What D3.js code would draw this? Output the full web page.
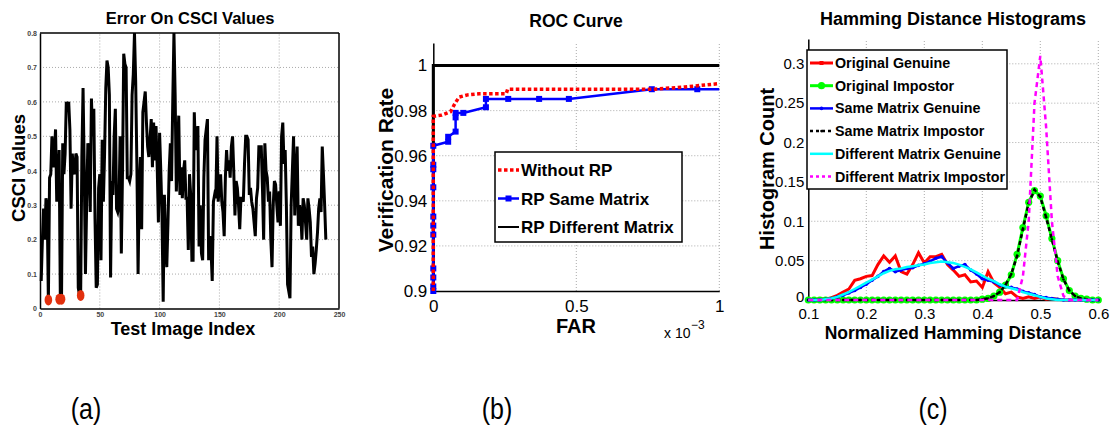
<!DOCTYPE html>
<html>
<head>
<meta charset="utf-8">
<script src="https://cdn.jsdelivr.net/npm/d3@7"></script>
<style>
body { margin: 0; background: #fff; }
text { font-family: "Liberation Sans", Arial, sans-serif; }
</style>
</head>
<body>
<svg id="fig" width="1117" height="429"></svg>
<script>
// ---- (a) CSCI values per test image ----
var csciValues = [
  0.08,0.20,0.29,0.20,0.32,0.30,0.02,0.38,0.39,0.50,
  0.41,0.45,0.52,0.31,0.36,0.46,0.03,0.03,0.48,0.39,
  0.45,0.60,0.59,0.60,0.52,0.29,0.45,0.40,0.39,0.45,
  0.44,0.06,0.04,0.04,0.44,0.64,0.40,0.10,0.30,0.48,
  0.45,0.28,0.61,0.50,0.58,0.26,0.06,0.07,0.35,0.39,
  0.14,0.49,0.31,0.45,0.64,0.72,0.70,0.62,0.09,0.37,
  0.33,0.50,0.58,0.29,0.28,0.30,0.50,0.16,0.40,0.74,
  0.71,0.70,0.38,0.38,0.37,0.39,0.62,0.68,0.80,0.66,
  0.42,0.10,0.35,0.44,0.23,0.57,0.60,0.63,0.54,0.47,
  0.44,0.49,0.55,0.41,0.54,0.43,0.53,0.41,0.25,0.51,
  0.40,0.27,0.02,0.33,0.20,0.12,0.25,0.40,0.48,0.37,
  0.60,0.80,0.62,0.34,0.45,0.56,0.33,0.41,0.32,0.40,
  0.43,0.32,0.32,0.17,0.39,0.33,0.14,0.14,0.57,0.46,
  0.48,0.53,0.18,0.30,0.16,0.14,0.38,0.49,0.52,0.55,
  0.14,0.21,0.17,0.08,0.31,0.33,0.32,0.50,0.31,0.36,
  0.39,0.31,0.28,0.21,0.38,0.46,0.40,0.43,0.38,0.47,
  0.50,0.40,0.27,0.37,0.35,0.30,0.23,0.32,0.32,0.31,
  0.42,0.50,0.50,0.49,0.33,0.35,0.31,0.29,0.25,0.21,
  0.32,0.35,0.47,0.47,0.47,0.35,0.20,0.48,0.40,0.38,
  0.31,0.34,0.20,0.12,0.30,0.37,0.36,0.30,0.25,0.34,
  0.24,0.50,0.54,0.42,0.46,0.30,0.07,0.05,0.03,0.30,
  0.40,0.50,0.27,0.38,0.47,0.24,0.30,0.28,0.20,0.32,
  0.30,0.25,0.20,0.32,0.29,0.25,0.15,0.18,0.10,0.13,
  0.17,0.22,0.29,0.32,0.28,0.47,0.39,0.30,0.20
];
var markedIndex = [7, 16, 18, 34];
var markedValue = [0.025, 0.027, 0.027, 0.038];
var aXTicks = [0, 50, 100, 150, 200, 250];
var aYTicks = [0, 0.1, 0.2, 0.3, 0.4, 0.5, 0.6, 0.7, 0.8];

// ---- (b) ROC curves (FAR in 1e-3) ----
var withoutFar = [0, 0, 0.03, 0.06, 0.075, 0.09, 0.12, 0.16, 0.255, 0.26, 0.77, 0.88, 1];
var withoutRate = [0.9, 0.9775, 0.978, 0.9795, 0.983, 0.986, 0.987, 0.9875, 0.9875, 0.9895, 0.9895, 0.9905, 0.992];
var sameFar = [0, 0, 0, 0, 0, 0, 0, 0, 0, 0, 0, 0.052, 0.052, 0.078, 0.078, 0.078, 0.105, 0.184, 0.184, 0.262, 0.37, 0.474, 0.764, 0.923, 1];
var sameRate = [0.9, 0.902, 0.906, 0.91, 0.925, 0.929, 0.933, 0.946, 0.954, 0.956, 0.9644, 0.9662, 0.9684, 0.9707, 0.977, 0.979, 0.979, 0.9815, 0.9852, 0.9852, 0.9852, 0.9852, 0.9895, 0.9895, 0.9895];
var diffFar = [0, 0, 1];
var diffRate = [0.9, 1, 1];
var bXTicks = [0, 0.5, 1];
var bYTicks = [0.9, 0.92, 0.94, 0.96, 0.98, 1];
var bLegend = ["Without RP", "RP Same Matrix", "RP Different Matrix"];

// ---- (c) Hamming distance histograms ----
var hdBins = [0.10,0.11,0.12,0.13,0.14,0.15,0.16,0.17,0.18,0.19,0.20,0.21,0.22,0.23,0.24,0.25,0.26,0.27,0.28,0.29,
  0.30,0.31,0.32,0.33,0.34,0.35,0.36,0.37,0.38,0.39,0.40,0.41,0.42,0.43,0.44,0.45,0.46,0.47,0.48,0.49,
  0.50,0.51,0.52,0.53,0.54,0.55,0.56,0.57,0.58,0.59,0.60];
var origGenuine = [0,0,0.002,0.001,0.003,0.006,0.010,0.014,0.025,0.027,0.030,0.031,0.045,0.056,0.048,0.056,0.036,0.033,0.045,0.060,
  0.047,0.055,0.055,0.058,0.045,0.038,0.030,0.032,0.023,0.024,0.016,0.036,0.022,0.016,0.008,0.010,0.004,0.002,0.004,0.002,
  0.004,0.001,0.002,0.001,0,0,0,0,0,0,0];
var origImpostor = [0,0,0,0,0,0,0,0,0,0,0,0,0,0,0,0,0,0,0,0,
  0,0,0,0,0,0,0,0,0,0,0.001,0.002,0.005,0.010,0.019,0.032,0.058,0.092,0.124,0.139,
  0.132,0.107,0.078,0.050,0.027,0.012,0.005,0.002,0.001,0,0];
var sameGenuine = [0,0,0,0.001,0.002,0.004,0.006,0.009,0.012,0.016,0.020,0.025,0.030,0.036,0.040,0.036,0.038,0.040,0.041,0.044,
  0.046,0.049,0.053,0.055,0.047,0.040,0.043,0.045,0.038,0.033,0.027,0.025,0.023,0.019,0.017,0.016,0.014,0.011,0.009,0.007,
  0.004,0.003,0.002,0.001,0,0,0,0,0,0,0];
var sameImpostor = [0,0,0,0,0,0,0,0,0,0,0,0,0,0,0,0,0,0,0,0,
  0,0,0,0,0,0,0,0,0,0,0.001,0.002,0.005,0.010,0.019,0.033,0.056,0.090,0.123,0.140,
  0.131,0.105,0.077,0.049,0.026,0.012,0.005,0.002,0.001,0,0];
var diffGenuine = [0,0,0,0.001,0.002,0.004,0.007,0.010,0.014,0.018,0.022,0.026,0.030,0.034,0.037,0.039,0.040,0.042,0.043,0.044,
  0.045,0.047,0.048,0.049,0.048,0.047,0.045,0.042,0.039,0.035,0.031,0.027,0.024,0.020,0.017,0.015,0.013,0.010,0.008,0.006,
  0.004,0.002,0.001,0,0,0,0,0,0,0,0];
var diffImpostor = [0,0,0,0,0,0,0,0,0,0,0,0,0,0,0,0,0,0,0,0,
  0,0,0,0,0,0,0,0,0,0,0,0,0,0,0,0,0,0.03,0.10,0.25,
  0.31,0.22,0.10,0.03,0.005,0,0,0,0,0,0];
var cXTicks = [0.1, 0.2, 0.3, 0.4, 0.5, 0.6];
var cYTicks = [0, 0.05, 0.1, 0.15, 0.2, 0.25, 0.3];
var cLegend = ["Original Genuine", "Original Impostor", "Same Matrix Genuine", "Same Matrix Impostor", "Different Matrix Genuine", "Different Matrix Impostor"];

var svg = d3.select('#fig')
svg.append('rect').attr('width', 1117).attr('height', 429).attr('fill', '#fff')

function grid(g, x, y, xt, yt) {
  var x0 = x.range()[0], x1 = x.range()[1], y0 = y.range()[0], y1 = y.range()[1]
  g.selectAll('.gx').data(xt).enter().append('line')
    .attr('x1', function (d) { return x(d) }).attr('x2', function (d) { return x(d) })
    .attr('y1', y0).attr('y2', y1)
    .attr('stroke', '#aaa').attr('stroke-width', 1).attr('stroke-dasharray', '1,2')
  g.selectAll('.gy').data(yt).enter().append('line')
    .attr('x1', x0).attr('x2', x1)
    .attr('y1', function (d) { return y(d) }).attr('y2', function (d) { return y(d) })
    .attr('stroke', '#aaa').attr('stroke-width', 1).attr('stroke-dasharray', '1,2')
}

function axes(g, x, y, xt, yt, size, padX, padY, fmtX, fmtY, weight, color) {
  var ax = g.append('g').attr('transform', 'translate(0,' + y.range()[0] + ')')
    .call(d3.axisBottom(x).tickValues(xt).tickSize(0).tickPadding(padX).tickFormat(fmtX))
  var ay = g.append('g').attr('transform', 'translate(' + x.range()[0] + ',0)')
    .call(d3.axisLeft(y).tickValues(yt).tickSize(0).tickPadding(padY).tickFormat(fmtY))
  ;[ax, ay].forEach(function (a) {
    a.select('.domain').attr('stroke', '#000').attr('stroke-width', 1.5)
    a.selectAll('text').attr('font-size', size).attr('font-weight', weight).attr('fill', color)
      .attr('font-family', '"Liberation Sans", Arial, sans-serif')
  })
  return ay
}

function label(text, x, y, size, rotate) {
  return svg.append('text').text(text)
    .attr('transform', 'translate(' + x + ',' + y + ')' + (rotate ? ' rotate(-90)' : ''))
    .attr('text-anchor', 'middle').attr('font-size', size).attr('font-weight', 'bold')
}

// ================= (a) =================
var ax = d3.scaleLinear().domain([0, 250]).range([40, 339])
var ay = d3.scaleLinear().domain([0, 0.8]).range([308.5, 33])
var ga = svg.append('g')
grid(ga, ax, ay, aXTicks.slice(1, 5), aYTicks.slice(1, 8))
axes(ga, ax, ay, aXTicks, aYTicks, 7, 4, 3, d3.format('d'), function (d) { return d === 0 ? '0' : d3.format('.1f')(d) }, 'bold', '#444')
ga.append('line').attr('x1', 40).attr('x2', 339).attr('y1', 33).attr('y2', 33).attr('stroke', '#000').attr('stroke-width', 1.5)
ga.append('line').attr('x1', 339).attr('x2', 339).attr('y1', 33).attr('y2', 308.5).attr('stroke', '#000').attr('stroke-width', 1.5)
ga.append('path').datum(csciValues)
  .attr('d', d3.line().x(function (d, i) { return ax(i + 1) }).y(function (d) { return ay(d) }))
  .attr('fill', 'none').attr('stroke', '#000').attr('stroke-width', 3)
ga.selectAll('.mark').data(markedIndex).enter().append('ellipse')
  .attr('cx', function (d) { return ax(d) }).attr('cy', function (d, i) { return ay(markedValue[i]) })
  .attr('rx', 3.8).attr('ry', 5.5).attr('fill', '#e2300e')
label('Error On CSCI Values', 190, 24, 16.5)
label('Test Image Index', 183, 335, 18)
label('CSCI Values', 25, 168, 18.5, true)

// ================= (b) =================
var bx = d3.scaleLinear().domain([0, 1]).range([433.3, 719.3])
var by = d3.scaleLinear().domain([0.9, 1.01]).range([291, 43])
var gb = svg.append('g')
grid(gb, bx, by, [0.5, 1], [0.92, 0.94, 0.96, 0.98])
axes(gb, bx, by, bXTicks, bYTicks, 17, 9, 6, function (d) { return d === 0 ? '0' : (d === 1 ? '1' : '0.5') },
  function (d) { return d === 1 ? '1' : (d === 0.9 ? '0.9' : d3.format('.2f')(d)) }, 'normal', '#000')
var lineB = function (xs) {
  return d3.line().x(function (d, i) { return bx(xs[i]) }).y(function (d) { return by(d) })
}
gb.append('path').datum(diffRate).attr('d', lineB(diffFar))
  .attr('fill', 'none').attr('stroke', '#000').attr('stroke-width', 3)
gb.append('path').datum(sameRate).attr('d', lineB(sameFar))
  .attr('fill', 'none').attr('stroke', '#0000ff').attr('stroke-width', 2.5)
gb.selectAll('.sq').data(sameRate.slice(0, sameRate.length - 1)).enter().append('rect')
  .attr('x', function (d, i) { return bx(sameFar[i]) - 3 }).attr('y', function (d) { return by(d) - 3 })
  .attr('width', 6).attr('height', 6).attr('fill', '#0000ff')
gb.append('path').datum(withoutRate).attr('d', lineB(withoutFar))
  .attr('fill', 'none').attr('stroke', '#ff0000').attr('stroke-width', 3.5).attr('stroke-dasharray', '3.5,2.5')
label('ROC Curve', 576, 26.7, 17.5)
label('FAR', 576, 333, 20)
label('Verification Rate', 393, 170, 21, true)
svg.append('text').attr('x', 664).attr('y', 338).attr('font-size', 14).text('x 10')
svg.append('text').attr('x', 691).attr('y', 329).attr('font-size', 12).text('\u22123')

var bl = svg.append('g')
bl.append('rect').attr('x', 495).attr('y', 152).attr('width', 187).attr('height', 90)
  .attr('fill', '#fff').attr('stroke', '#000').attr('stroke-width', 1.5)
var bStyles = [
  { c: '#ff0000', w: 3.5, dash: '3.5,2.5', mark: false },
  { c: '#0000ff', w: 2.5, dash: null, mark: true },
  { c: '#000', w: 2, dash: null, mark: false }
]
bLegend.forEach(function (name, i) {
  var yy = 170 + i * 28.5
  var s = bStyles[i]
  bl.append('line').attr('x1', 498).attr('x2', 519).attr('y1', yy).attr('y2', yy)
    .attr('stroke', s.c).attr('stroke-width', s.w).attr('stroke-dasharray', s.dash)
  if (s.mark) bl.append('rect').attr('x', 505.5).attr('y', yy - 3).attr('width', 6).attr('height', 6).attr('fill', s.c)
  bl.append('text').attr('x', 521).attr('y', yy + 6).attr('font-size', 17).attr('font-weight', 'bold').text(name)
})

// ================= (c) =================
var cx = d3.scaleLinear().domain([0.1, 0.6]).range([808.3, 1098.3])
var cy = d3.scaleLinear().domain([0, 0.3315]).range([300, 39])
var gc = svg.append('g')
grid(gc, cx, cy, [0.2, 0.3, 0.4, 0.5, 0.6], [0.05, 0.1, 0.15, 0.2, 0.25, 0.3])
var cyAxis = axes(gc, cx, cy, cXTicks, cYTicks, 15, 8, 4, d3.format('.1f'), function (d) { return d === 0 ? '0' : String(d) }, 'normal', '#000')
// lift the bottom "0" a touch so it clears the "0.1" below it
cyAxis.selectAll('.tick text').filter(function (d) { return d === 0 }).attr('dy', '0.1em')
var lineC = d3.line().x(function (d, i) { return cx(hdBins[i]) }).y(function (d) { return cy(d) })
var cSeries = [
  { v: origGenuine, c: '#ff0000', w: 3, dash: null, r: 0 },
  { v: origImpostor, c: '#00ff00', w: 3, dash: null, r: 3.6 },
  { v: sameGenuine, c: '#0000ff', w: 2.5, dash: null, r: 1.8 },
  { v: sameImpostor, c: '#000000', w: 2.5, dash: '4,3', r: 1.3 },
  { v: diffGenuine, c: '#00ffff', w: 2.5, dash: null, r: 0 },
  { v: diffImpostor, c: '#ff00ff', w: 2.5, dash: '5,4', r: 0 }
]
cSeries.forEach(function (s) {
  gc.append('path').datum(s.v).attr('d', lineC)
    .attr('fill', 'none').attr('stroke', s.c).attr('stroke-width', s.w).attr('stroke-dasharray', s.dash)
  if (s.r) gc.append('g').selectAll('circle').data(s.v).enter().append('circle')
    .attr('cx', function (d, i) { return cx(hdBins[i]) }).attr('cy', function (d) { return cy(d) })
    .attr('r', s.r).attr('fill', s.c)
})
label('Hamming Distance Histograms', 953, 24.6, 18)
label('Normalized Hamming Distance', 953, 339, 17.5)
label('Histogram Count', 774, 169, 20, true)

var cl = svg.append('g')
cl.append('rect').attr('x', 807).attr('y', 50).attr('width', 200).attr('height', 139)
  .attr('fill', '#fff').attr('stroke', '#000').attr('stroke-width', 1.5)
cLegend.forEach(function (name, i) {
  var yy = 63 + i * 22.7
  var s = cSeries[i]
  cl.append('line').attr('x1', 810).attr('x2', 833).attr('y1', yy).attr('y2', yy)
    .attr('stroke', s.c).attr('stroke-width', s.w).attr('stroke-dasharray', s.dash ? '3,3' : null)
  if (i === 0) cl.append('rect').attr('x', 819.5).attr('y', yy - 2).attr('width', 4).attr('height', 4).attr('fill', s.c)
  if (s.r) cl.append('circle').attr('cx', 821.5).attr('cy', yy).attr('r', s.r).attr('fill', s.c)
  cl.append('text').attr('x', 835).attr('y', yy + 5).attr('font-size', 14.3).attr('font-weight', 'bold').text(name)
})

// ---- sub-captions ----
;['(a)', '(b)', '(c)'].forEach(function (t, i) {
  svg.append('text').attr('text-anchor', 'middle')
    .attr('transform', 'translate(' + [86, 497, 933][i] + ',419) scale(1,1.2)')
    .attr('font-family', '"Liberation Serif", "Times New Roman", serif').attr('font-size', 25).text(t)
})
</script>
</body>
</html>
